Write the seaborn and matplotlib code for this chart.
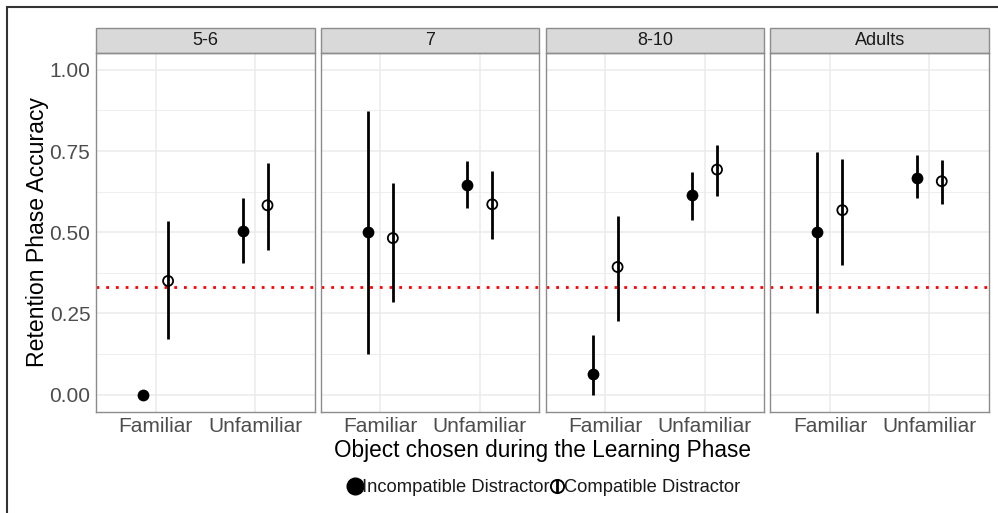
import matplotlib
matplotlib.use("Agg")
import matplotlib.pyplot as plt
from matplotlib.patches import Rectangle
from matplotlib.lines import Line2D
from matplotlib.legend_handler import HandlerTuple
import seaborn as sns
import pandas as pd

# summarised data
ages = ["5-6", "7", "8-10", "Adults"]
objects = ["Familiar", "Unfamiliar"]
distractors = ["Incompatible Distractor", "Compatible Distractor"]

# order: age x object x distractor
mean_acc = [0.000, 0.350, 0.505, 0.583,
            0.500, 0.482, 0.644, 0.586,
            0.062, 0.393, 0.614, 0.693,
            0.500, 0.568, 0.668, 0.657]
lower_ci = [0.000, 0.172, 0.405, 0.444,
            0.124, 0.284, 0.576, 0.479,
            0.000, 0.228, 0.537, 0.612,
            0.250, 0.400, 0.606, 0.586]
upper_ci = [0.000, 0.536, 0.607, 0.713,
            0.874, 0.653, 0.720, 0.688,
            0.184, 0.551, 0.686, 0.768,
            0.748, 0.727, 0.738, 0.723]
chance = 0.33

rows = []
i = 0
for a in ages:
    for o in objects:
        for d in distractors:
            rows.append({"age": a, "object": o, "distractor": d,
                         "acc": mean_acc[i], "lo": lower_ci[i], "hi": upper_ci[i]})
            i += 1
df = pd.DataFrame(rows)

sns.set_theme(style="whitegrid")
plt.rcParams["font.family"] = ["Liberation Sans", "DejaVu Sans"]

g = sns.FacetGrid(df, col="age", col_order=ages, sharey=True, sharex=True,
                  height=5.13, aspect=0.5, despine=False)
g.figure.set_size_inches(9.98, 5.13)

dodge = {"Incompatible Distractor": -0.125, "Compatible Distractor": 0.125}


def draw_ranges(data, **kws):
    ax = plt.gca()
    for _, r in data.iterrows():
        x = objects.index(r["object"]) + dodge[r["distractor"]]
        if r["hi"] > r["lo"]:
            ax.vlines(x, r["lo"], r["hi"], color="black", lw=2.0, zorder=3)
    fill = data[data["distractor"] == distractors[0]]
    hollow = data[data["distractor"] == distractors[1]]
    ax.scatter(fill["object"].map(objects.index) + dodge[distractors[0]], fill["acc"],
               s=72, color="black", zorder=4, linewidths=0)
    ax.scatter(hollow["object"].map(objects.index) + dodge[distractors[1]], hollow["acc"],
               s=52, facecolor="none", edgecolor="black", linewidths=1.3, zorder=4)
    ax.axhline(chance, color="#FF0000", lw=2.0, ls=(0, (1, 2.5)), zorder=2)


g.map_dataframe(draw_ranges)

g.figure.subplots_adjust(left=96 / 998, right=989 / 998, bottom=1 - 411.5 / 513,
                         top=1 - 53 / 513, wspace=0.0275)

yt = [0, 0.25, 0.5, 0.75, 1.0]
for ax, a in zip(g.axes.flat, ages):
    ax.set_xlim(-0.6, 1.6)
    ax.set_ylim(-0.052, 1.052)
    ax.set_xticks([0, 1])
    ax.set_xticklabels(objects)
    ax.set_yticks(yt)
    ax.set_yticks([0.125, 0.375, 0.625, 0.875], minor=True)
    ax.grid(which="major", color="#EBEBEB", lw=1.1)
    ax.grid(which="minor", axis="y", color="#EBEBEB", lw=0.6)
    ax.set_axisbelow(True)
    for s in ax.spines.values():
        s.set_edgecolor("#8C8C8C")
        s.set_linewidth(1.0)
    ax.tick_params(axis="both", which="major", length=2.6, width=1, color="#8C8C8C",
                   labelsize=15, labelcolor="#4D4D4D", pad=1.5)
    ax.tick_params(axis="y", which="minor", length=0)
    ax.set_title("")
    ax.set_xlabel("")
    ax.set_ylabel("")
    # strip
    h = 25 / 358.5
    ax.add_patch(Rectangle((0, 1), 1, h, transform=ax.transAxes, clip_on=False,
                           facecolor="#D9D9D9", edgecolor="#8C8C8C", lw=1.0))
    ax.text(0.5, 1 + h / 2, a, transform=ax.transAxes, ha="center", va="center",
            fontsize=13, color="#1A1A1A")

for ax in g.axes.flat[1:]:
    ax.tick_params(axis="y", labelleft=False, length=0)

g.axes.flat[0].set_yticklabels(["0.00", "0.25", "0.50", "0.75", "1.00"])

fig = g.figure
fig.text(38 / 998, (513 - 232) / 513, "Retention Phase Accuracy", rotation=90,
         ha="center", va="center", fontsize=16.6, color="black")
fig.text(542.5 / 998, 1 - 450 / 513, "Object chosen during the Learning Phase",
         ha="center", va="center", fontsize=16.3, color="black")

h1 = Line2D([0], [0], marker="o", color="black", lw=0, markersize=12)
h2 = (Line2D([0], [0], marker="|", color="black", markersize=10, mew=2.0, lw=0),
      Line2D([0], [0], marker="o", markerfacecolor="none", markeredgecolor="black",
             markeredgewidth=1.4, markersize=9.5, lw=0))
leg = fig.legend(handles=[h1, h2], labels=distractors, loc="center",
                 bbox_to_anchor=(544 / 998, 1 - 488 / 513), ncol=2, frameon=False,
                 fontsize=13.2, handlelength=0.8, handletextpad=0.0, columnspacing=0.0,
                 handler_map={tuple: HandlerTuple(ndivide=1)})
for t in leg.get_texts():
    t.set_color("#1A1A1A")

fig.patches.append(Rectangle((7 / 998, -0.1), 1.2, 1 - 7 / 513 + 0.1,
                             transform=fig.transFigure, fill=False,
                             edgecolor="#333333", lw=1.5))

fig.savefig("out.png", dpi=100, facecolor="white")
